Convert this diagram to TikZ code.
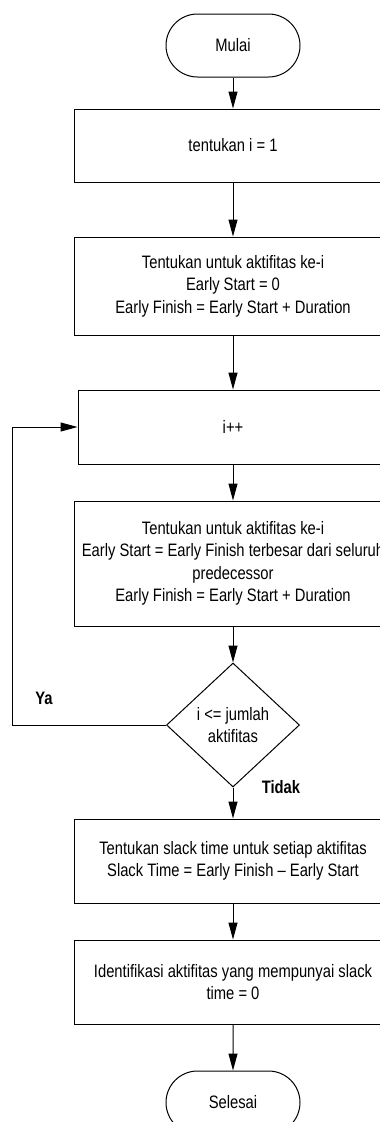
\documentclass[tikz,border=0pt]{standalone}
\usepackage{fontspec}
\setmainfont{Liberation Sans}[FakeStretch=0.82]
\usetikzlibrary{positioning,shapes.geometric,shapes.misc,arrows.meta}
\begin{document}
\begin{tikzpicture}[x=1pt,y=1pt,line width=1pt]
\tikzstyle{every node}=[font=\fontsize{18}{22.5}\selectfont,align=center]
\tikzstyle{terminal}=[draw,rounded rectangle,minimum width=134pt,minimum height=63pt,inner sep=0pt]
\tikzstyle{proses}=[draw,rectangle,minimum width=318pt,inner sep=0pt]
\tikzstyle{keputusan}=[draw,diamond,aspect=1.07,minimum width=133pt,minimum height=124pt,inner sep=0pt]
\tikzstyle{panah}=[-{Triangle[length=17pt,width=9pt]}]
\clip (0,0) rectangle (380,-1122);
\node[terminal] (mulai) at (233,-45.5) {Mulai};
\node[proses,minimum height=73pt,below=31pt of mulai] (awal) {tentukan i = 1};
\node[proses,minimum height=98pt,below=54pt of awal] (pertama)
  {Tentukan untuk aktifitas ke-i\\Early Start = 0\\Early Finish = Early Start + Duration};
\node[proses,minimum width=310pt,minimum height=74pt,below=54pt of pertama] (tambah) {i++};
\node[proses,minimum height=125pt,below=36pt of tambah] (hitung)
  {Tentukan untuk aktifitas ke-i\\Early Start = Early Finish terbesar dari seluruh\\predecessor\\Early Finish = Early Start + Duration};
\node[keputusan,below=36pt of hitung] (cek) {i <= jumlah\\aktifitas};
\node[proses,minimum height=84pt,below=31pt of cek] (slack)
  {Tentukan slack time untuk setiap aktifitas\\Slack Time = Early Finish -- Early Start};
\node[proses,minimum height=84pt,below=36pt of slack] (kritis)
  {Identifikasi aktifitas yang mempunyai slack\\time = 0};
\node[terminal,below=46pt of kritis] (selesai) {Selesai};
\node (ya) at (44,-698) {\textbf{Ya}};
\node (tidak) at (281,-787) {\textbf{Tidak}};
\coordinate (balik) at (12,-720);
% alur utama
\draw[panah] (mulai) -- (awal);
\draw[panah] (awal) -- (pertama);
\draw[panah] (pertama) -- (tambah);
\draw[panah] (tambah) -- (hitung);
\draw[panah] (hitung) -- (cek);
\draw[panah] (cek) -- (slack);
\draw[panah] (slack) -- (kritis);
\draw[panah] (kritis) -- (selesai);
% kembali ke i++
\draw[panah] (cek.west) -- (cek.west -| balik) |- (tambah.west);
\end{tikzpicture}
\end{document}
